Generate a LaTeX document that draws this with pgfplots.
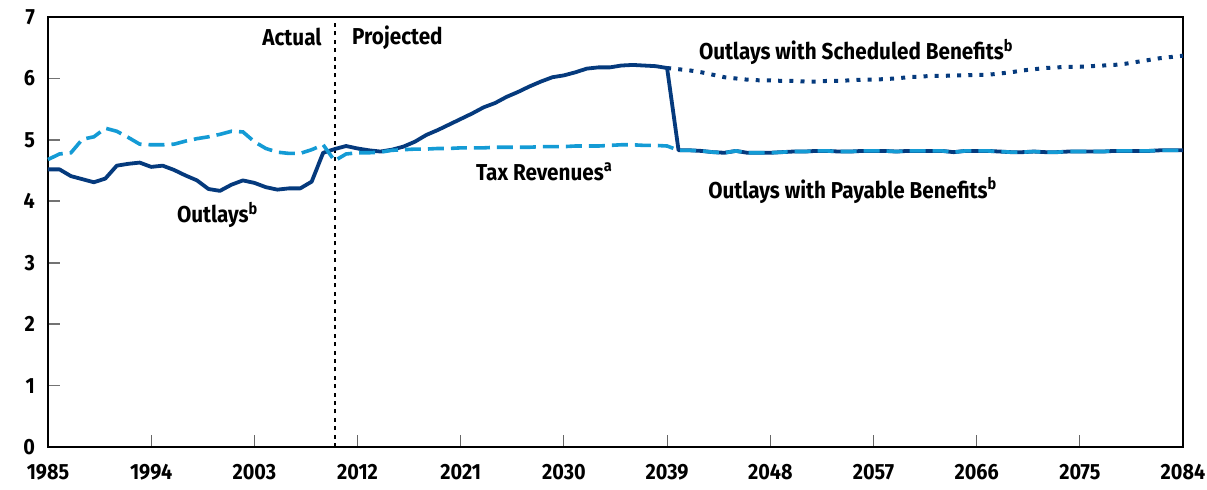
\documentclass[border=0pt]{standalone}
\usepackage{fontspec}
\setmainfont{Fira Sans}[FakeStretch=0.9]
\usepackage{pgfplots}
\pgfplotsset{compat=1.18}
\definecolor{navy}{RGB}{5,58,125}
\definecolor{sky}{RGB}{20,155,213}
\begin{document}
\begin{tikzpicture}
\useasboundingbox (-24pt,-21pt) rectangle (579.5pt,223.5pt);
\begin{axis}[
  scale only axis, width=567.5pt, height=215pt,
  xmin=1985, xmax=2084, ymin=0, ymax=7,
  xtick={1985,1994,...,2084}, ytick={0,1,...,7},
  tick align=inside, major tick length=6pt,
  xtick pos=bottom, ytick pos=left,
  x tick style={black!60, line width=0.5pt},
  y tick style={black!55, line width=0.9pt},
  axis line style={black, line width=0.9pt},
  x tick label style={font=\bfseries\fontsize{11}{13}\selectfont, yshift=-5pt},
  y tick label style={font=\bfseries\fontsize{11}{13}\selectfont, xshift=-3pt},
  /pgf/number format/assume math mode=true,
  /pgf/number format/1000 sep={},
  clip=false,
]
\draw[black, line width=0.9pt, dash pattern=on 2pt off 2.2pt] (axis cs:2010,0) -- (axis cs:2010,6.95);
% Outlays (actual + payable)
\addplot[navy, line width=1.9pt, line join=round] coordinates {
(1985,4.52)(1986,4.52)(1987,4.41)(1988,4.36)(1989,4.31)(1990,4.37)(1991,4.58)(1992,4.61)(1993,4.63)(1994,4.56)
(1995,4.58)(1996,4.51)(1997,4.42)(1998,4.34)(1999,4.20)(2000,4.17)(2001,4.27)(2002,4.34)(2003,4.30)(2004,4.23)
(2005,4.19)(2006,4.21)(2007,4.21)(2008,4.32)(2009,4.79)(2010,4.85)(2011,4.90)(2012,4.86)(2013,4.83)(2014,4.81)
(2015,4.84)(2016,4.89)(2017,4.97)(2018,5.08)(2019,5.16)(2020,5.25)(2021,5.34)(2022,5.43)(2023,5.53)(2024,5.60)
(2025,5.70)(2026,5.78)(2027,5.87)(2028,5.95)(2029,6.02)(2030,6.05)(2031,6.10)(2032,6.16)(2033,6.18)(2034,6.18)
(2035,6.21)(2036,6.22)(2037,6.21)(2038,6.20)(2039,6.17)
(2040,4.83)(2041,4.83)(2042,4.82)(2043,4.80)(2044,4.79)(2045,4.82)(2046,4.79)(2047,4.79)(2048,4.79)(2049,4.80)
(2050,4.81)(2051,4.81)(2052,4.82)(2053,4.82)(2054,4.81)(2055,4.81)(2056,4.82)(2057,4.82)(2058,4.82)(2059,4.81)
(2060,4.82)(2061,4.82)(2062,4.82)(2063,4.82)(2064,4.80)(2065,4.82)(2066,4.82)(2067,4.82)(2068,4.81)(2069,4.80)
(2070,4.80)(2071,4.81)(2072,4.80)(2073,4.80)(2074,4.81)(2075,4.81)(2076,4.81)(2077,4.81)(2078,4.82)(2079,4.82)
(2080,4.82)(2081,4.82)(2082,4.83)(2083,4.83)(2084,4.83)};
% Scheduled benefits
\addplot[navy, line width=2pt, dash pattern=on 2pt off 3.6pt] coordinates {
(2039,6.17)(2040,6.15)(2041,6.13)(2042,6.10)(2043,6.06)(2044,6.02)(2045,6.00)(2046,5.98)(2047,5.97)(2048,5.97)
(2049,5.96)(2050,5.96)(2051,5.95)(2052,5.95)(2053,5.96)(2054,5.96)(2055,5.97)(2056,5.98)(2057,5.98)(2058,5.99)
(2059,6.00)(2060,6.02)(2061,6.03)(2062,6.04)(2063,6.04)(2064,6.05)(2065,6.05)(2066,6.06)(2067,6.06)(2068,6.08)
(2069,6.10)(2070,6.13)(2071,6.15)(2072,6.17)(2073,6.18)(2074,6.19)(2075,6.19)(2076,6.20)(2077,6.21)(2078,6.22)
(2079,6.24)(2080,6.27)(2081,6.30)(2082,6.33)(2083,6.35)(2084,6.37)};
% Tax revenues
\addplot[sky, line width=1.8pt, dash pattern=on 8pt off 3.5pt] coordinates {
(1985,4.68)(1986,4.77)(1987,4.79)(1988,5.01)(1989,5.05)(1990,5.19)(1991,5.14)(1992,5.04)(1993,4.93)(1994,4.92)
(1995,4.92)(1996,4.93)(1997,4.98)(1998,5.02)(1999,5.05)(2000,5.09)(2001,5.14)(2002,5.13)(2003,4.97)(2004,4.86)
(2005,4.80)(2006,4.78)(2007,4.78)(2008,4.84)(2009,4.92)(2010,4.66)(2011,4.77)(2012,4.79)(2013,4.79)(2014,4.80)
(2015,4.83)(2016,4.84)(2017,4.85)(2018,4.85)(2019,4.86)(2020,4.86)(2021,4.87)(2022,4.87)(2023,4.87)(2024,4.88)
(2025,4.88)(2026,4.88)(2027,4.88)(2028,4.89)(2029,4.89)(2030,4.89)(2031,4.90)(2032,4.90)(2033,4.90)(2034,4.91)
(2035,4.92)(2036,4.92)(2037,4.91)(2038,4.91)(2039,4.90)
(2040,4.83)(2041,4.83)(2042,4.82)(2043,4.80)(2044,4.79)(2045,4.82)(2046,4.79)(2047,4.79)(2048,4.79)(2049,4.80)
(2050,4.81)(2051,4.81)(2052,4.82)(2053,4.82)(2054,4.81)(2055,4.81)(2056,4.82)(2057,4.82)(2058,4.82)(2059,4.81)
(2060,4.82)(2061,4.82)(2062,4.82)(2063,4.82)(2064,4.80)(2065,4.82)(2066,4.82)(2067,4.82)(2068,4.81)(2069,4.80)
(2070,4.80)(2071,4.81)(2072,4.80)(2073,4.80)(2074,4.81)(2075,4.81)(2076,4.81)(2077,4.81)(2078,4.82)(2079,4.82)
(2080,4.82)(2081,4.82)(2082,4.83)(2083,4.83)(2084,4.83)};
\begin{scope}[every node/.style={font=\bfseries\fontsize{11.5}{13}\selectfont, inner sep=0pt}]
\node[anchor=east] at (axis cs:2008.9,6.67) {Actual};
\node[anchor=west] at (axis cs:2011.5,6.67) {Projected};
\node at (axis cs:1999.8,3.78) {Outlays\textsuperscript{b}};
\node at (axis cs:2028.3,4.48) {Tax Revenues\textsuperscript{a}};
\node at (axis cs:2055.5,6.43) {Outlays with Scheduled Benefits\textsuperscript{b}};
\node at (axis cs:2055.2,4.18) {Outlays with Payable Benefits\textsuperscript{b}};
\end{scope}
\end{axis}
\end{tikzpicture}
\end{document}
